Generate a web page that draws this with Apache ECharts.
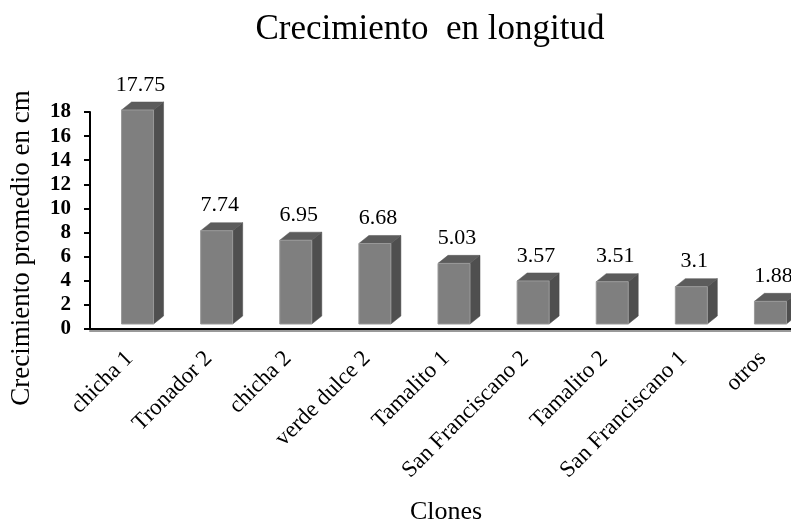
<!DOCTYPE html>
<html lang="es">
<head>
    <meta charset="UTF-8"/>
    <title>Crecimiento en longitud</title>
    <style>
        * { margin: 0; padding: 0; }
        body { background: #fff; }
        #chart { width: 791px; height: 523px; }
    </style>
    <script src="https://cdn.jsdelivr.net/npm/echarts@6/dist/echarts.min.js"></script>
</head>
<body>
<div id="chart"></div>
<script>
    const clones = ["chicha 1", "Tronador 2", "chicha 2", "verde dulce 2", "Tamalito 1",
        "San Franciscano 2", "Tamalito 2", "San Franciscano 1", "otros"];
    const crecimiento = [17.75, 7.74, 6.95, 6.68, 5.03, 3.57, 3.51, 3.1, 1.88];
    const yTicks = [0, 2, 4, 6, 8, 10, 12, 14, 16, 18];

    const serif = "Liberation Serif, Times New Roman, serif";
    const myChart = echarts.init(document.getElementById("chart"));

    // caja 3D: cara frontal, lateral y superior
    function renderBar(params, api) {
        const top = api.coord([api.value(0), api.value(1)]);
        const base = api.coord([api.value(0), 0]);
        const sink = 5, dx = 10, dy = 8, half = 16, shift = 8;
        const x0 = top[0] + shift - half, x1 = top[0] + shift + half;
        const yt = top[1] - sink, yb = base[1] - sink;
        return {
            type: "group",
            children: [
                {
                    type: "polygon",
                    shape: {points: [[x1, yb], [x1 + dx, yb - dy], [x1 + dx, yt - dy], [x1, yt]]},
                    style: {fill: "#4f4f4f", stroke: "#4a4a4a", lineWidth: 0.5}
                },
                {
                    type: "polygon",
                    shape: {points: [[x0, yt], [x0 + dx, yt - dy], [x1 + dx, yt - dy], [x1, yt]]},
                    style: {fill: "#5c5c5c", stroke: "#555", lineWidth: 0.5}
                },
                {
                    type: "rect",
                    shape: {x: x0, y: yt, width: x1 - x0, height: yb - yt},
                    style: {fill: "#7f7f7f", stroke: "#9a9a9a", lineWidth: 1}
                },
                {
                    type: "text",
                    style: {
                        text: String(api.value(1)),
                        x: (x0 + x1) / 2 + 3, y: yt - dy - 6,
                        align: "center", verticalAlign: "bottom",
                        font: "22px " + serif, fill: "#000"
                    }
                }
            ]
        };
    }

    myChart.setOption({
        animation: false,
        title: {
            text: "Crecimiento  en longitud",
            left: 425, top: 7,
            textAlign: "center",
            textStyle: {fontFamily: serif, fontSize: 35, fontWeight: "normal", color: "#000"}
        },
        grid: {left: 90, top: 112, width: 712, height: 217, outerBoundsMode: "none"},
        xAxis: {
            type: "category",
            data: clones,
            axisLine: {
                lineStyle: {color: "#000", width: 2, shadowColor: "#999", shadowOffsetY: 2}
            },
            axisTick: {show: false},
            axisLabel: {
                rotate: 45, interval: 0, margin: 26,
                fontFamily: serif, fontSize: 23, color: "#000"
            }
        },
        yAxis: {
            type: "value",
            min: 0, max: yTicks[yTicks.length - 1], interval: 2,
            splitLine: {show: false},
            axisLine: {show: true, lineStyle: {color: "#000", width: 2}},
            axisTick: {show: true, length: 6, lineStyle: {color: "#000", width: 2}},
            axisLabel: {
                margin: 19, fontFamily: serif, fontSize: 21, fontWeight: "bold", color: "#000"
            }
        },
        graphic: [
            {
                type: "text", x: 22, y: 248, rotation: Math.PI / 2,
                style: {
                    text: "Crecimiento promedio en cm", align: "center", verticalAlign: "middle",
                    font: "27px " + serif, fill: "#000"
                }
            },
            {
                type: "text", x: 446, y: 512,
                style: {
                    text: "Clones", align: "center", verticalAlign: "middle",
                    font: "26px " + serif, fill: "#000"
                }
            }
        ],
        series: [{
            type: "custom",
            renderItem: renderBar,
            data: clones.map((c, i) => [i, crecimiento[i]]),
            clip: false
        }]
    });
</script>
</body>
</html>
